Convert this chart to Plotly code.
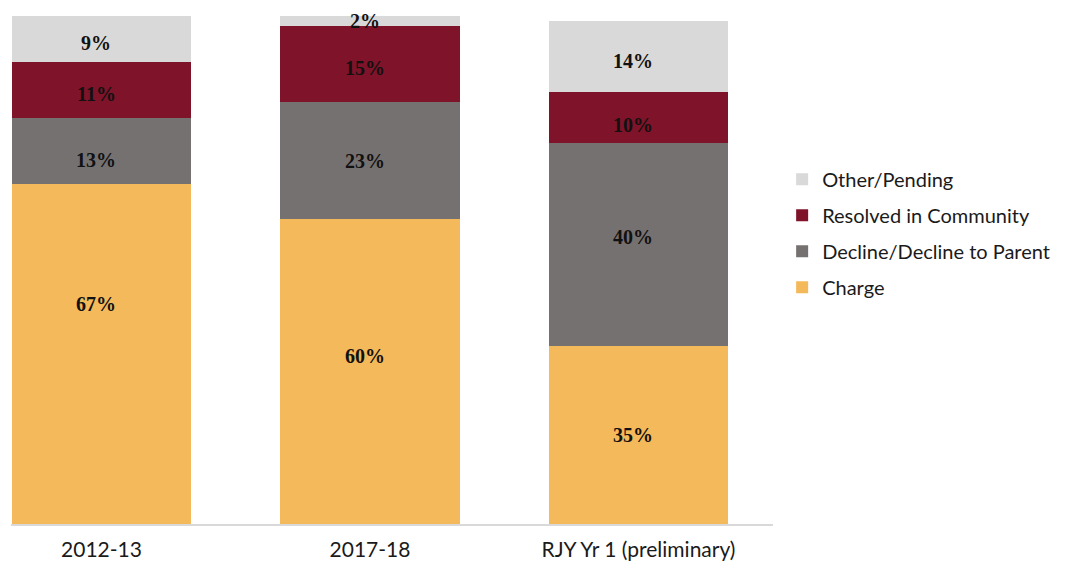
import plotly.graph_objects as go

# Case outcomes by period (percent of cases)
categories = ["2012-13", "2017-18", "RJY Yr 1 (preliminary)"]
charge = [67, 60, 35]
decline = [13, 23, 40]
resolved = [11, 15, 10]
other = [9, 2, 14]

series = [
    ("Charge", charge, "#F4B95A"),
    ("Decline/Decline to Parent", decline, "#767171"),
    ("Resolved in Community", resolved, "#7F1329"),
    ("Other/Pending", other, "#D9D9D9"),
]

fig = go.Figure()
for k, (name, vals, color) in enumerate(series):
    fig.add_trace(go.Bar(
        x=categories, y=vals, name=name, legendgroup=name,
        legendrank=len(series) - k,
        marker=dict(color=color, line=dict(width=0)),
        width=0.667, hoverinfo="skip",
    ))

# segment labels near the middle of each stacked block
label_nudge = {
    ("2012-13", "Charge"): 54,
    ("2012-13", "Decline/Decline to Parent"): -5,
    ("2017-18", "Charge"): 20,
    ("2017-18", "Decline/Decline to Parent"): 4,
    ("2017-18", "Other/Pending"): 4,
    ("RJY Yr 1 (preliminary)", "Charge"): 4,
    ("RJY Yr 1 (preliminary)", "Decline/Decline to Parent"): 12,
    ("RJY Yr 1 (preliminary)", "Resolved in Community"): -3,
}
base = [0] * len(categories)
for name, vals, color in series:
    for i, (cat, v) in enumerate(zip(categories, vals)):
        mid = base[i] + v / 2
        fig.add_annotation(
            x=cat, y=mid, text=f"<b>{v}%</b>", showarrow=False,
            xshift=-5,
            yshift=-4 + label_nudge.get((cat, name), 0),
            font=dict(family="Liberation Serif", size=20, color="#111111"),
        )
        base[i] += v

fig.update_layout(
    width=1081, height=565,
    margin=dict(l=11, r=308, t=16, b=41, autoexpand=False),
    barmode="stack", bargap=0,
    plot_bgcolor="white", paper_bgcolor="white",
    font=dict(family="Lato", size=20, color="#1a1a1a"),
    showlegend=True,
    legend=dict(
        x=1.012, xanchor="left", y=0.717, yanchor="top",
        traceorder="grouped", tracegroupgap=7,
        itemwidth=30,
        font=dict(family="Lato", size=20, color="#1a1a1a"),
    ),
    xaxis=dict(
        type="category", range=[-0.337, 2.501],
        automargin=False,
        showline=True, linecolor="#D9D9D9", linewidth=2,
        ticks="", showgrid=False, zeroline=False,
        ticklabelstandoff=6,
        tickfont=dict(family="Lato", size=21, color="#1a1a1a"),
    ),
    yaxis=dict(range=[0, 100], visible=False, showgrid=False, zeroline=False),
)

fig.write_html("out.html")
